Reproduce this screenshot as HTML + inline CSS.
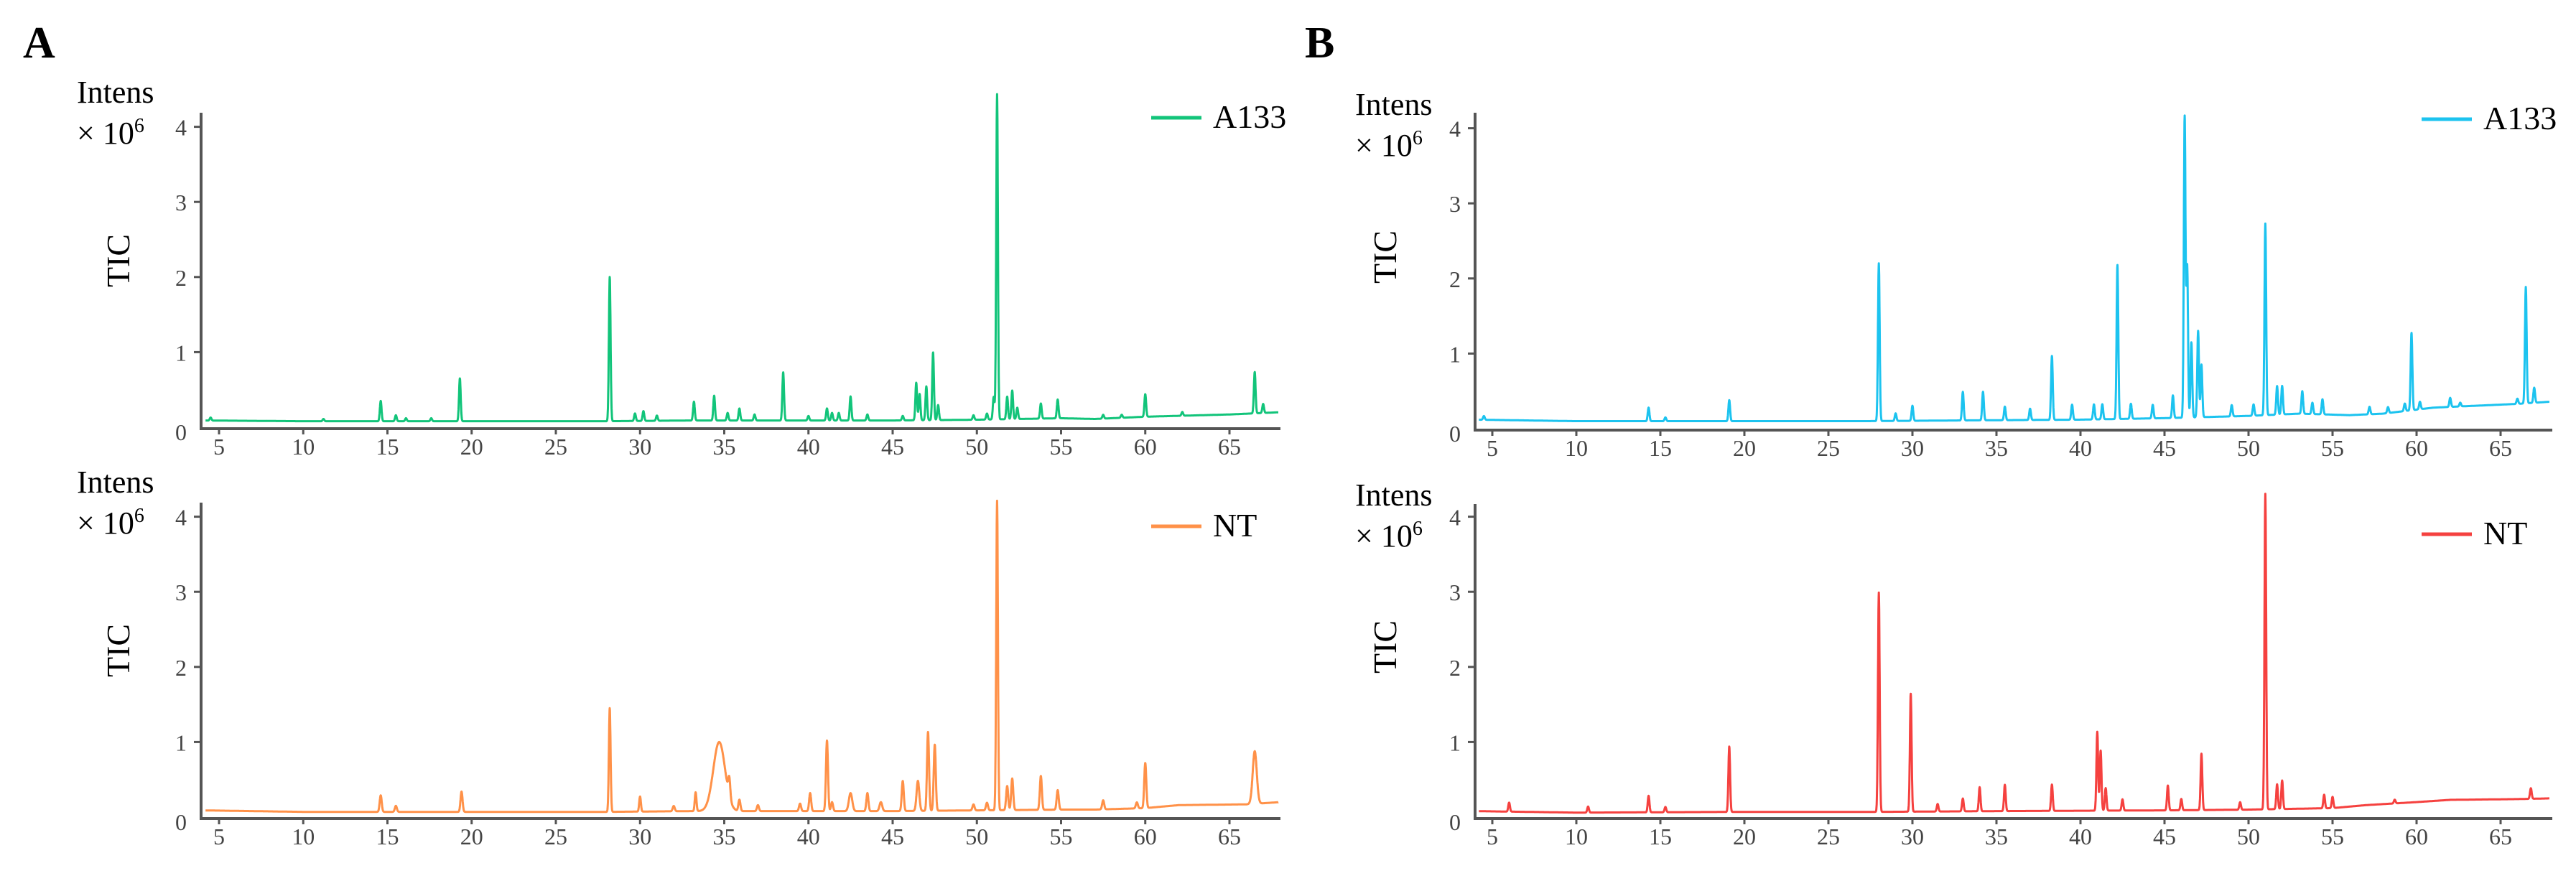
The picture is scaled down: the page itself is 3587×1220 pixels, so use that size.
<!DOCTYPE html>
<html><head><meta charset="utf-8">
<style>
html,body{margin:0;padding:0;background:#fff;}
svg{display:block;}
text{font-family:"Liberation Serif",serif;}
.tk{fill:#444;font-size:32px;}
</style></head>
<body>
<svg id="fig" width="3587" height="1220" viewBox="0 0 3587 1220" xmlns="http://www.w3.org/2000/svg">
<text x="32" y="80" font-size="62" font-weight="bold">A</text>
<text x="1817" y="80" font-size="62" font-weight="bold">B</text>
</svg>
<script>
// ---- data (retention time in min, intensity in 1e6) ----
const xTicks=[5,10,15,20,25,30,35,40,45,50,55,60,65];
const yTicks=[0,1,2,3,4];
// A133 (panel A)
const aTopBaseT=[4,10,20,28,33,40,45,50,55,57,60,65,66,68];
const aTopBaseV=[0.09,0.08,0.08,0.08,0.09,0.09,0.09,0.1,0.12,0.11,0.14,0.17,0.18,0.2];
const aTopPeakT=[4.5,11.2,14.6,15.5,16.1,17.6,19.3,28.2,29.7,30.2,31.0,33.2,34.4,35.2,35.9,36.8,38.5,40.0,41.1,41.4,41.8,42.5,43.5,45.6,46.4,46.6,47.0,47.4,47.7,49.8,50.6,51.0,51.2,51.8,52.1,52.4,53.8,54.8,57.5,58.6,60.0,62.2,66.5,67.0];
const aTopPeakV=[0.04,0.03,0.27,0.08,0.04,0.04,0.57,1.92,0.1,0.13,0.07,0.25,0.33,0.1,0.16,0.08,0.64,0.06,0.16,0.1,0.1,0.32,0.08,0.06,0.5,0.35,0.45,0.9,0.2,0.06,0.08,0.3,4.33,0.3,0.38,0.15,0.2,0.25,0.05,0.04,0.3,0.05,0.55,0.12];
// NT (panel A)
const aBotBaseT=[4,10,20,28,33,40,45,50,55,57,60,62,66,68];
const aBotBaseV=[0.09,0.07,0.07,0.07,0.08,0.08,0.08,0.09,0.1,0.1,0.12,0.16,0.17,0.2];
const aBotPeakT=[14.6,15.5,19.4,28.2,30.0,32.0,33.3,34.7,35.3,35.9,37.0,39.5,40.1,41.1,41.4,42.5,43.5,44.3,45.6,46.5,47.1,47.5,49.8,50.6,51.2,51.8,52.1,53.8,54.8,57.5,59.5,60.0,66.5];
const aBotPeakV=[0.22,0.08,0.27,1.38,0.2,0.07,0.25,0.92,0.25,0.15,0.08,0.1,0.24,0.94,0.12,0.24,0.24,0.12,0.4,0.4,1.05,0.88,0.08,0.1,4.12,0.32,0.42,0.45,0.26,0.12,0.08,0.6,0.7];
const aBotPeakW=[0.06,0.06,0.06,0.05,0.05,0.06,0.05,0.35,0.06,0.06,0.06,0.06,0.06,0.06,0.06,0.1,0.06,0.08,0.06,0.08,0.06,0.06,0.06,0.06,0.05,0.06,0.06,0.06,0.06,0.06,0.06,0.06,0.12];
// A133 (panel B)
const bTopBaseT=[4,10,20,27,33,40,45,50,53,56,58,61,65,66,68];
const bTopBaseV=[0.12,0.1,0.1,0.1,0.11,0.12,0.14,0.17,0.2,0.18,0.2,0.28,0.32,0.33,0.36];
const bTopPeakT=[4.5,14.3,15.3,19.1,28.0,29.0,30.0,33.0,34.2,35.5,37.0,38.3,39.5,40.8,41.3,42.2,43.0,44.3,45.5,46.2,46.35,46.6,47.0,47.2,49.0,50.3,51.0,51.7,52.0,53.2,53.8,54.4,57.2,58.3,59.3,59.7,60.2,62.0,62.6,66.0,66.5,67.0];
const bTopPeakV=[0.05,0.18,0.05,0.28,2.1,0.1,0.2,0.38,0.38,0.18,0.15,0.85,0.2,0.2,0.2,2.05,0.2,0.18,0.3,4.0,2.0,1.0,1.15,0.7,0.15,0.15,2.55,0.38,0.38,0.3,0.15,0.2,0.1,0.08,0.1,1.03,0.1,0.12,0.05,0.07,1.55,0.2];
// NT (panel B)
const bBotBaseT=[4,10,20,28,35,45,50,55,57,60,62,66,68];
const bBotBaseV=[0.08,0.06,0.07,0.07,0.08,0.09,0.1,0.12,0.16,0.2,0.23,0.24,0.25];
const bBotPeakT=[6.0,10.7,14.3,15.3,19.1,28.0,29.9,31.5,33.0,34.0,35.5,38.3,41.0,41.2,41.5,42.5,45.2,46.0,47.2,49.5,51.0,51.7,52.0,54.5,55.0,58.7,66.8];
const bBotPeakV=[0.12,0.08,0.22,0.07,0.87,2.92,1.57,0.1,0.17,0.32,0.35,0.35,1.05,0.8,0.3,0.15,0.33,0.15,0.75,0.1,4.2,0.33,0.38,0.18,0.15,0.05,0.14];

const svg=document.getElementById('fig');
const NS='http://www.w3.org/2000/svg';
function el(tag,attrs,parent){const e=document.createElementNS(NS,tag);for(const k in attrs)e.setAttribute(k,attrs[k]);(parent||svg).appendChild(e);return e;}
function interp(ts,vs,t){if(t<=ts[0])return vs[0];for(let i=1;i<ts.length;i++){if(t<=ts[i]){const f=(t-ts[i-1])/(ts[i]-ts[i-1]);return vs[i-1]+f*(vs[i]-vs[i-1]);}}return vs[vs.length-1];}
function signal(bt,bv,pt,pv,pw,t){let y=interp(bt,bv,t);for(let i=0;i<pt.length;i++){const w=pw?pw[i]:0.05;const d=(t-pt[i])/w;if(Math.abs(d)<6)y+=pv[i]*Math.exp(-0.5*d*d);}return y;}

function panel(cfg){
  const g=el('g',{});
  
  
  const X=t=>cfg.x5+(t-5)*cfg.pxMin;
  const Y=v=>cfg.y0-v*104.6;
  // trace
  let d='';
  for(let t=cfg.t0;t<=cfg.t1+1e-9;t+=0.01){const v=signal(cfg.bt,cfg.bv,cfg.pt,cfg.pv,cfg.pw,t);d+=(d?'L':'M')+X(t).toFixed(1)+','+Y(v).toFixed(1);}
  const line=el('path',{d:d,fill:'none',stroke:cfg.color,'stroke-width':3,'stroke-linejoin':'round'},g);
  
  
  // axes
  const ax=el('path',{d:`M${cfg.axL},${cfg.yTop}V${cfg.y0+2}H${cfg.axR}`,fill:'none',stroke:'#555','stroke-width':4},g);
  
  
  xTicks.forEach(t=>{
    el('line',{x1:X(t),x2:X(t),y1:cfg.y0+2,y2:cfg.y0+10,stroke:'#555','stroke-width':3},g);
    const tx=el('text',{x:X(t),y:cfg.y0+38,'text-anchor':'middle',class:'tk'},g);
    
    
    tx.textContent=t;
  });
  yTicks.forEach(v=>{
    if(v>0)el('line',{x1:cfg.axL-10,x2:cfg.axL,y1:Y(v),y2:Y(v),stroke:'#555','stroke-width':3},g);
    const ty=el('text',{x:cfg.axL-20,y:Y(v)+(v?12:18),'text-anchor':'end',class:'tk','font-size':v?36:26},g);
    
    
    ty.textContent=v;
  });
  // labels
  const it=el('text',{x:cfg.labX,y:cfg.intY,'font-size':44},g);
  
  
  it.textContent='Intens';
  const sc=el('text',{x:cfg.labX,y:cfg.intY+57,'font-size':44},g);
  
  
  sc.innerHTML='× 10<tspan dy="-16" font-size="28">6</tspan>';
  const tic=el('text',{x:0,y:0,'font-size':46,'text-anchor':'middle',transform:`translate(${cfg.ticX},${cfg.ticY}) rotate(-90)`},g);
  
  
  tic.textContent='TIC';
  // legend
  const lg=el('g',{},g);
  
  
  el('line',{x1:cfg.legX,x2:cfg.legX+70,y1:cfg.legY,y2:cfg.legY,stroke:cfg.color,'stroke-width':5},lg);
  const lt=el('text',{x:cfg.legX+86,y:cfg.legY+14,'font-size':46},lg);
  lt.textContent=cfg.series;
}
const A={x5:305,pxMin:23.45,axL:280,axR:1783,t0:4.2,t1:67.9,labX:107,ticX:180,legX:1603};
const B={x5:2078,pxMin:23.4,axL:2054,axR:3554,t0:4.2,t1:67.9,labX:1887,ticX:1944,legX:3372};
panel(Object.assign({},A,{name:'panel-a-a133',series:'A133',color:'#12c47a',y0:595,yTop:157,intY:143,ticY:363,legY:164,bt:aTopBaseT,bv:aTopBaseV,pt:aTopPeakT,pv:aTopPeakV,pw:null}));
panel(Object.assign({},A,{name:'panel-a-nt',series:'NT',color:'#ff9148',y0:1138,yTop:700,intY:686,ticY:906,legY:733,bt:aBotBaseT,bv:aBotBaseV,pt:aBotPeakT,pv:aBotPeakV,pw:aBotPeakW}));
panel(Object.assign({},B,{name:'panel-b-a133',series:'A133',color:'#1cc3ef',y0:597,yTop:157,intY:160,ticY:358,legY:166,bt:bTopBaseT,bv:bTopBaseV,pt:bTopPeakT,pv:bTopPeakV,pw:null}));
panel(Object.assign({},B,{name:'panel-b-nt',series:'NT',color:'#f5413f',y0:1138,yTop:702,intY:704,ticY:901,legY:744,bt:bBotBaseT,bv:bBotBaseV,pt:bBotPeakT,pv:bBotPeakV,pw:null}));
</script>
</body></html>
